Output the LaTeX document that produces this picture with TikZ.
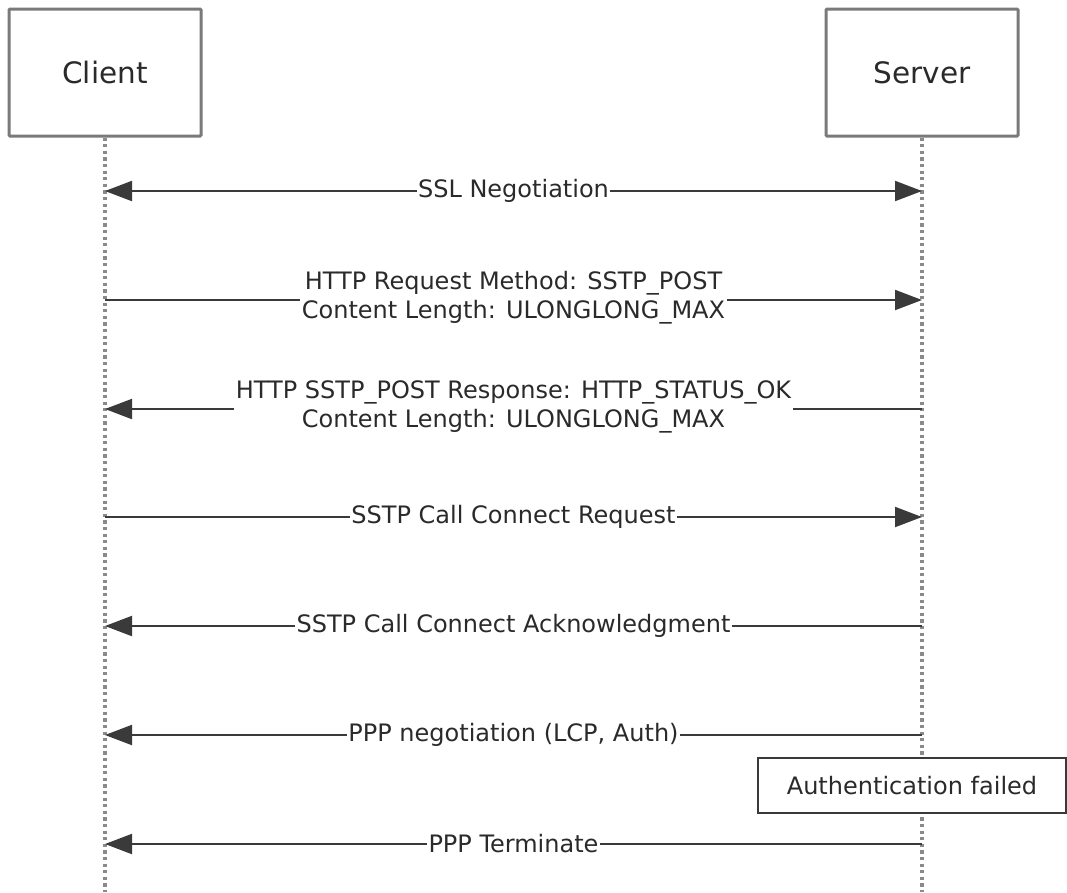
\documentclass[tikz,border=0pt]{standalone}
\usepackage{fontspec}
\setmainfont{DejaVu Sans}
\usetikzlibrary{arrows.meta}
\definecolor{boxline}{HTML}{7A7A7A}
\definecolor{dotline}{HTML}{8A8A8A}
\definecolor{txt}{HTML}{2A2A2A}
\definecolor{msgline}{HTML}{3A3A3A}
\tikzset{
  actor/.style={draw=boxline, line width=3pt, fill=white, minimum width=192pt, minimum height=127pt, inner sep=0pt, text=txt, font=\fontsize{29.5}{34}\selectfont, rounded corners=1pt},
  lifeline/.style={draw=dotline, line width=3.2pt, dash pattern=on 3.3pt off 3.3pt},
  msg/.style={draw=msgline, line width=2pt, -{Triangle[length=27pt, width=20pt]}},
  msgboth/.style={draw=msgline, line width=2pt, {Triangle[length=27pt, width=20pt]}-{Triangle[length=27pt, width=20pt]}},
  lbl/.style={fill=white, inner xsep=1.5pt, inner ysep=0pt, text=txt, font=\fontsize{24}{29}\selectfont, align=center},
  notebox/.style={draw=msgline, line width=2pt, fill=white, minimum width=308pt, minimum height=55pt, inner sep=0pt, text=txt, font=\fontsize{24}{29}\selectfont},
}
\begin{document}
\begin{tikzpicture}[x=1pt, y=-1pt]
\useasboundingbox (0,0) rectangle (1067,892);
% lifelines
\coordinate (cend) at (105,892);
\coordinate (send) at (922,892);
\node[actor] (client) at (105,72.5) {Client};
\node[actor] (server) at (922,72.5) {Server};
\draw[lifeline] (client.south) -- (cend);
\draw[lifeline] (server.south) -- (send);
% message anchor points
\coordinate (c1) at (105,191); \coordinate (s1) at (922,191);
\coordinate (c2) at (105,300); \coordinate (s2) at (922,300);
\coordinate (c3) at (105,409); \coordinate (s3) at (922,409);
\coordinate (c4) at (105,517); \coordinate (s4) at (922,517);
\coordinate (c5) at (105,626); \coordinate (s5) at (922,626);
\coordinate (c6) at (105,735); \coordinate (s6) at (922,735);
\coordinate (c7) at (105,844); \coordinate (s7) at (922,844);
% messages
\draw[msgboth] (c1) -- node[lbl] (m1) {SSL Negotiation} (s1);
\draw[msg] (c2) -- node[lbl, yshift=2pt] (m2) {HTTP Request Method: SSTP\_POST\\Content Length: ULONGLONG\_MAX} (s2);
\draw[msg] (s3) -- node[lbl, yshift=2pt] (m3) {HTTP SSTP\_POST Response: HTTP\_STATUS\_OK\\Content Length: ULONGLONG\_MAX} (c3);
\draw[msg] (c4) -- node[lbl] (m4) {SSTP Call Connect Request} (s4);
\draw[msg] (s5) -- node[lbl] (m5) {SSTP Call Connect Acknowledgment} (c5);
\draw[msg] (s6) -- node[lbl] (m6) {PPP negotiation (LCP, Auth)} (c6);
\node[notebox] (auth) at (912,785.5) {Authentication failed};
\draw[msg] (s7) -- node[lbl] (m7) {PPP Terminate} (c7);
\end{tikzpicture}
\end{document}
